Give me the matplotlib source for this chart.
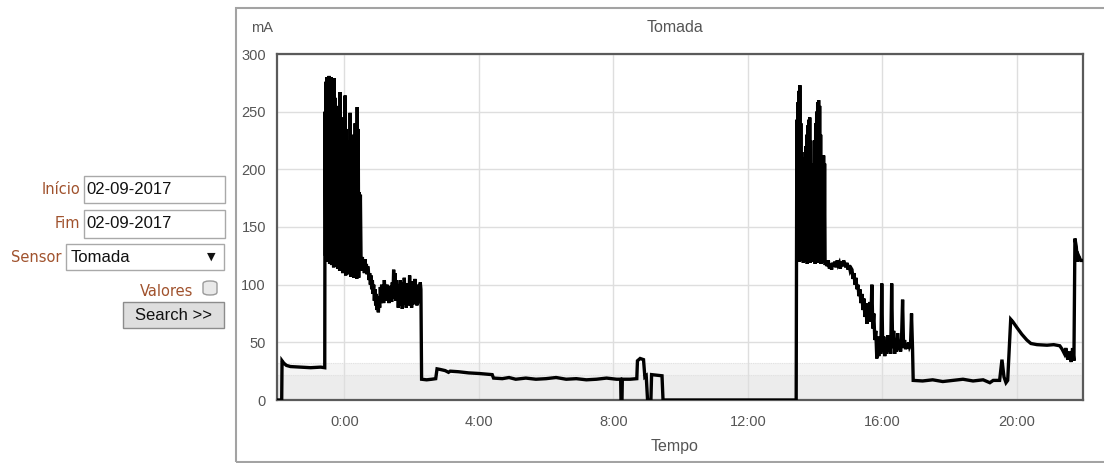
import numpy as np
import matplotlib
matplotlib.use("Agg")
import matplotlib.pyplot as plt
from matplotlib.patches import Rectangle, FancyBboxPatch
from matplotlib.ticker import FixedLocator, FixedFormatter

W, H = 1104, 463

# ---------------------------------------------------------------------------
# Sensor "Tomada", 02-09-2017. Time in hours from midnight, current in mA.
# ---------------------------------------------------------------------------
standby_h = [-1.98, -1.86, -1.85, -1.80, -1.72, -1.60, -1.30, -1.00, -0.70, -0.58]
standby_mA = [0, 0, 34, 32, 30, 29, 28.5, 28, 28.5, 28]

# first heavy load: regularly sampled, alternating peak / floor readings
burst1_span = (-0.57, 0.46)
burst1_peak = [250, 276, 280, 279, 281, 278, 280, 276, 274, 279, 262, 240, 255, 230,
               250, 267, 245, 220, 240, 210, 264, 235, 205, 225, 200, 249, 215, 190,
               230, 205, 240, 225, 254, 235, 180]
burst1_floor = [125, 122, 120, 123, 118, 121, 117, 120, 115, 118, 116, 119, 114, 117,
                112, 115, 113, 110, 114, 111, 108, 112, 109, 113, 110, 107, 111, 108,
                106, 110, 107, 105, 109, 106, 112]

after1_span = (0.48, 2.28)
after1_mA = [178, 121, 115, 124, 112, 120, 110, 122, 113, 118, 109, 116,
             112, 104, 110, 100, 108, 96, 104, 92, 100, 86, 96, 82, 92, 78, 90, 76,
             88, 80, 98, 84, 100, 88, 96, 84, 104, 90, 98, 86, 100, 88, 95, 84, 99,
             87, 96, 85, 102, 90, 113, 88, 110, 86, 104, 92, 100, 80, 98, 84, 104,
             82, 96, 79, 102, 86, 106, 83, 98, 80, 101, 87, 96, 82, 108, 85, 97, 80,
             103, 88, 99, 83, 105, 86, 98, 82, 100, 87, 97, 84, 102, 96]

idle_h = [2.30, 2.45, 2.60, 2.72, 2.76, 2.85, 3.00, 3.10, 3.15, 3.40, 3.70, 4.00,
          4.20, 4.40, 4.44, 4.70, 4.90, 5.10, 5.40, 5.70, 6.00, 6.30, 6.60, 6.90,
          7.20, 7.50, 7.80, 8.10, 8.22, 8.23, 8.26, 8.27, 8.50, 8.70, 8.72, 8.80,
          8.90, 8.94, 8.98, 9.02, 9.12, 9.14, 9.30, 9.45, 9.48, 13.44]
idle_mA = [18, 17.5, 18, 18.5, 27, 26.5, 25.5, 24, 25, 24.5, 23.5, 23,
           22.5, 22, 19, 18.5, 19.5, 18, 19, 18, 18.5, 19.5, 18, 18.5,
           17.5, 18, 19, 18, 18, 0, 0, 18, 18, 18.5, 34, 36,
           35, 20, 21, 0, 0, 22, 21.5, 21, 0, 0]

# second heavy load
burst2_span = (13.46, 14.30)
burst2_peak = [243, 258, 268, 273, 240, 215, 205, 202, 210, 220, 230, 238, 243, 245,
               225, 200, 188, 205, 225, 240, 250, 258, 260, 255, 230, 212, 212, 212, 205]
burst2_floor = [122, 125, 120, 124, 121, 126, 119, 123, 120, 125, 118, 122, 124, 119,
                121, 125, 120, 123, 118, 122, 119, 124, 121, 120, 118, 122, 119, 121, 117]

plateau_span = (14.33, 15.08)
plateau_mA = [120, 116, 121, 114, 118, 113, 119, 116, 120, 115, 121, 117, 119, 114,
              120, 116, 121, 118, 115, 119, 113, 117, 112, 114]

decline_span = (15.10, 16.90)
decline_mA = [113, 105, 110, 100, 106, 96, 100, 90, 96, 84, 92, 78, 88, 72, 84, 66,
              80, 70, 85, 68, 100, 62, 75, 52, 60, 36, 55, 38, 52, 40, 101, 42, 55,
              38, 50, 40, 56, 42, 50, 40, 101, 45, 60, 40, 52, 42, 58, 44, 50, 42,
              55, 87, 45, 52, 44, 48, 45, 50, 46, 48, 75, 45]

night_h = [16.92, 17.20, 17.50, 17.80, 18.10, 18.40, 18.70, 19.00, 19.20, 19.30,
           19.49, 19.56, 19.62, 19.68, 19.73, 19.82, 19.88, 20.00, 20.15, 20.30,
           20.42, 20.60, 20.90, 21.10, 21.28, 21.35, 21.42, 21.46, 21.52, 21.56,
           21.62, 21.66, 21.70, 21.73, 21.77, 21.80, 21.84, 21.90, 21.96]
night_mA = [17, 16.5, 17.5, 16, 17, 18, 16.5, 17.5, 15, 17,
            17, 35, 20, 15, 17, 70, 68, 63, 57, 52,
            49, 48, 47.5, 48, 47, 44, 40, 45, 35, 42,
            33, 45, 34, 140, 133, 120, 125, 121, 121]

x_ticks = [0, 4, 8, 12, 16, 20]
x_tick_labels = ["0:00", "4:00", "8:00", "12:00", "16:00", "20:00"]
y_ticks = [0, 50, 100, 150, 200, 250, 300]


def sampled(span, values):
    return list(np.linspace(span[0], span[1], len(values))), list(values)


def interleave(peaks, floors):
    out = []
    for p, f in zip(peaks, floors):
        out += [p, f]
    return out


pieces = [
    (standby_h, standby_mA),
    sampled(burst1_span, interleave(burst1_peak, burst1_floor)),
    sampled(after1_span, after1_mA),
    (idle_h, idle_mA),
    sampled(burst2_span, interleave(burst2_peak, burst2_floor)),
    sampled(plateau_span, plateau_mA),
    sampled(decline_span, decline_mA),
    (night_h, night_mA),
]
hours = np.concatenate([np.asarray(p[0], float) for p in pieces])
current = np.concatenate([np.asarray(p[1], float) for p in pieces])


def fx(x):
    return x / W


def fy(y):
    return 1 - y / H


fig = plt.figure(figsize=(W / 100, H / 100), dpi=100)
fig.patch.set_facecolor("white")

# outer chart panel
fig.patches.append(Rectangle((fx(236), fy(462)), fx(1110 - 236), (462 - 8) / H,
                             transform=fig.transFigure, facecolor="none",
                             edgecolor="#a3a3a3", linewidth=1.5))

ax = fig.add_axes([fx(277), fy(400), fx(1083 - 277), (400 - 54) / H])
ax.set_xlim(-2.0, 21.97)
ax.set_ylim(0, 300)

ax.axhspan(0, 22, color="#ececec", zorder=0.1, lw=0)
ax.axhspan(22, 32, color="#f4f4f4", zorder=0.1, lw=0)
ax.axhline(32, color="#e2e2e2", lw=0.8, ls=(0, (1, 1)), zorder=0.2)
ax.axhline(22, color="#e2e2e2", lw=0.8, ls=(0, (1, 1)), zorder=0.2)

ax.set_axisbelow(True)
ax.grid(True, color="#dedede", lw=1.0)
ax.xaxis.set_major_locator(FixedLocator(x_ticks))
ax.xaxis.set_major_formatter(FixedFormatter(x_tick_labels))
ax.yaxis.set_major_locator(FixedLocator(y_ticks))
ax.tick_params(length=0, labelsize=10.5, labelcolor="#555555")
ax.tick_params(axis="x", pad=11)
ax.tick_params(axis="y", pad=8)
for lab in ax.get_xticklabels() + ax.get_yticklabels():
    lab.set_family("Liberation Sans")
for sp in ax.spines.values():
    sp.set_color("#5a5a5a")
    sp.set_linewidth(1.6)

ax.plot(hours, current, color="black", lw=2.4, solid_joinstyle="miter", zorder=3)

fig.text(fx(262), fy(28), "mA", ha="center", va="center", fontsize=10.5,
         color="#555555", family="Liberation Sans")
fig.text(fx(675), fy(28), "Tomada", ha="center", va="center", fontsize=11.5,
         color="#555555", family="Liberation Sans")
fig.text(fx(675), fy(447), "Tempo", ha="center", va="center", fontsize=11.5,
         color="#555555", family="Liberation Sans")

# search form
label_color = "#a0522d"


def box(x0, y0, x1, y1, face="white", edge="#a9a9a9", lw=1.0, rounded=False):
    if rounded:
        p = FancyBboxPatch((fx(x0), fy(y1)), fx(x1 - x0), (y1 - y0) / H,
                           boxstyle="round,pad=0,rounding_size=0.006",
                           transform=fig.transFigure, facecolor=face,
                           edgecolor=edge, linewidth=lw)
    else:
        p = Rectangle((fx(x0), fy(y1)), fx(x1 - x0), (y1 - y0) / H,
                      transform=fig.transFigure, facecolor=face,
                      edgecolor=edge, linewidth=lw)
    fig.patches.append(p)


def label(x, y, s):
    fig.text(fx(x), fy(y), s, ha="right", va="center", fontsize=10.5,
             color=label_color, family="DejaVu Sans")


label(80, 189, "Início")
box(84, 176, 225, 203)
fig.text(fx(86), fy(189), "02-09-2017", ha="left", va="center", fontsize=12,
         color="#111111", family="Liberation Sans")

label(80, 224, "Fim")
box(84, 210, 225, 238)
fig.text(fx(86), fy(224), "02-09-2017", ha="left", va="center", fontsize=12,
         color="#111111", family="Liberation Sans")

label(62, 258, "Sensor")
box(66, 244, 224, 270)
fig.text(fx(71), fy(258), "Tomada", ha="left", va="center", fontsize=12,
         color="#111111", family="Liberation Sans")
fig.text(fx(211), fy(257), "▼", ha="center", va="center", fontsize=8,
         color="#111111", family="DejaVu Sans")

label(193, 292, "Valores")
box(203, 281, 217, 295, face="#e9e9e9", edge="#9a9a9a", rounded=True)

box(123, 302, 224, 328, face="#dedede", edge="#8c8c8c")
fig.text(fx(173.5), fy(315), "Search >>", ha="center", va="center", fontsize=12,
         color="#111111", family="Liberation Sans")

fig.savefig("out.png", dpi=100, facecolor="white")
